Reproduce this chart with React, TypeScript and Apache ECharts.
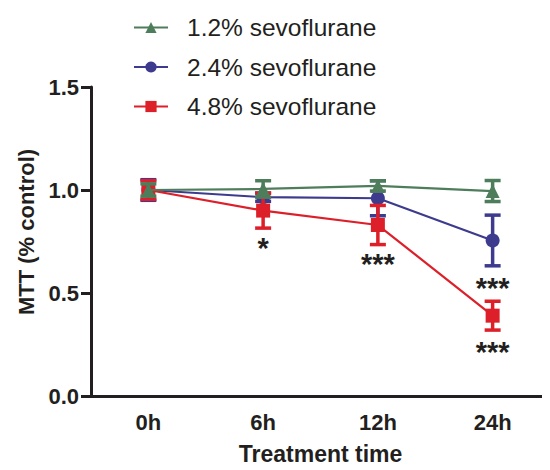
import React, { useEffect, useRef } from "react";
import * as echarts from "echarts";

const categories = ["0h", "6h", "12h", "24h"];
const seriesNames = ["1.2% sevoflurane", "2.4% sevoflurane", "4.8% sevoflurane"];
const mean12 = [1.0, 1.005, 1.02, 0.995];
const err12 = [0.03, 0.04, 0.025, 0.051];
const mean24 = [1.0, 0.965, 0.96, 0.755];
const err24 = [0.05, 0.02, 0.085, 0.123];
const mean48 = [1.0, 0.9, 0.83, 0.39];
const err48 = [0.045, 0.085, 0.095, 0.07];
// significance marks: [category index, y value, text]
const starCats = [1, 2, 3, 3];
const starVals = [0.72, 0.641, 0.525, 0.214];
const starTexts = ["*", "***", "***", "***"];
const yTicks = [0, 0.5, 1.0, 1.5];
const yTitle = "MTT (% control)";
const xTitle = "Treatment time";

const GREEN = "#4E7D5B";
const BLUE = "#3D3B8E";
const RED = "#DD1F2A";
const INK = "#231F20";
const FONT = "'Liberation Sans', Arial, sans-serif";

function errSeries(name: string, color: string, mean: number[], err: number[], z: number) {
  return {
    type: "custom",
    name: name + " err",
    z,
    silent: true,
    data: mean.map((m, i) => [i, m - err[i], m + err[i]]),
    renderItem: (params: any, api: any) => {
      const x = api.value(0);
      const lo = api.coord([x, api.value(1)]);
      const hi = api.coord([x, api.value(2)]);
      const hw = 8;
      const style = { stroke: color, lineWidth: 3.5 };
      return {
        type: "group",
        children: [
          { type: "line", shape: { x1: lo[0], y1: lo[1], x2: hi[0], y2: hi[1] }, style },
          { type: "line", shape: { x1: lo[0] - hw, y1: lo[1], x2: lo[0] + hw, y2: lo[1] }, style },
          { type: "line", shape: { x1: hi[0] - hw, y1: hi[1], x2: hi[0] + hw, y2: hi[1] }, style },
        ],
      };
    },
  };
}

function lineSeries(name: string, color: string, mean: number[], symbol: string, size: number, z: number) {
  return {
    type: "line",
    name,
    data: mean,
    symbol,
    symbolSize: size,
    z,
    lineStyle: { color, width: 2.2 },
    itemStyle: { color },
  };
}

export default function App() {
  const ref = useRef<HTMLDivElement>(null);
  useEffect(() => {
    if (!ref.current) return;
    const chart = echarts.init(ref.current, null, { renderer: "svg" });
    const option: any = {
      animation: false,
      backgroundColor: "#ffffff",
      grid: { left: 91, top: 87, width: 462, height: 316, containLabel: false },
      legend: {
        orient: "vertical",
        left: 128,
        top: 10,
        itemWidth: 34,
        itemHeight: 14,
        itemGap: 14.5,
        data: seriesNames,
        textStyle: {
          color: INK,
          fontSize: 24.5,
          lineHeight: 24,
          fontFamily: FONT,
          padding: [0, 0, 0, 14],
        },
      },
      graphic: [
        {
          type: "text",
          x: 26,
          y: 232,
          rotation: Math.PI / 2,
          style: {
            text: yTitle,
            fill: INK,
            font: `bold 22px ${FONT}`,
            textAlign: "center",
            textVerticalAlign: "middle",
          },
        },
      ],
      xAxis: {
        type: "category",
        data: categories,
        boundaryGap: true,
        name: xTitle,
        nameLocation: "middle",
        nameGap: 46,
        nameTextStyle: { color: INK, fontSize: 23, fontWeight: "bold", fontFamily: FONT },
        axisLine: { lineStyle: { color: INK, width: 3 } },
        axisTick: { alignWithLabel: true, length: 8, lineStyle: { color: INK, width: 3 } },
        axisLabel: { color: INK, fontSize: 22, fontWeight: "bold", fontFamily: FONT, margin: 15 },
        splitLine: { show: false },
      },
      yAxis: {
        type: "value",
        min: 0,
        max: 1.5,
        interval: 0.5,
        axisLine: { show: true, lineStyle: { color: INK, width: 3 } },
        axisTick: { show: true, length: 10, lineStyle: { color: INK, width: 3 } },
        axisLabel: {
          color: INK,
          fontSize: 22,
          fontWeight: "bold",
          fontFamily: FONT,
          margin: 12,
          formatter: (v: number) => (yTicks.includes(v) ? v.toFixed(1) : ""),
        },
        splitLine: { show: false },
      },
      series: [
        errSeries(seriesNames[1], BLUE, mean24, err24, 2),
        lineSeries(seriesNames[1], BLUE, mean24, "circle", 14, 3),
        errSeries(seriesNames[2], RED, mean48, err48, 4),
        lineSeries(seriesNames[2], RED, mean48, "rect", 14, 5),
        errSeries(seriesNames[0], GREEN, mean12, err12, 6),
        lineSeries(seriesNames[0], GREEN, mean12, "triangle", 14, 7),
        {
          type: "custom",
          name: "stars",
          silent: true,
          z: 8,
          data: starCats.map((c, i) => [c, starVals[i], i]),
          renderItem: (params: any, api: any) => {
            const p = api.coord([api.value(0), api.value(1)]);
            const idx = api.value(2);
            return {
              type: "text",
              x: p[0],
              y: p[1],
              style: {
                text: starTexts[idx],
                fill: INK,
                font: `bold 29px ${FONT}`,
                textAlign: "center",
                textVerticalAlign: "middle",
              },
            };
          },
        },
      ],
    };
    chart.setOption(option);
    return () => chart.dispose();
  }, []);
  return <div ref={ref} style={{ width: 550, height: 470, margin: -8 }} />;
}
